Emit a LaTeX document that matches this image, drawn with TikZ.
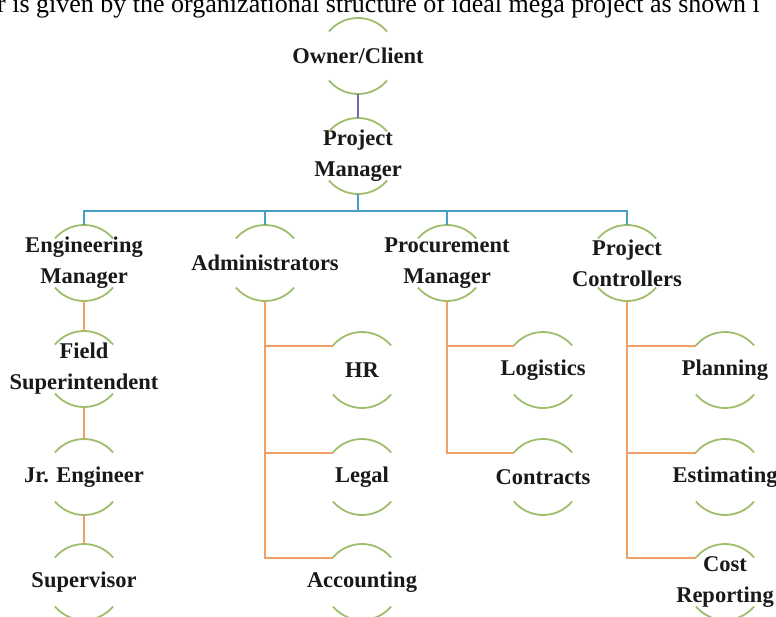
\documentclass[tikz,border=0pt]{standalone}
\usepackage{fontspec}
\setmainfont{Liberation Serif}
\definecolor{arcgreen}{RGB}{158,190,108}
\definecolor{busblue}{RGB}{72,158,196}
\definecolor{branchorange}{RGB}{240,160,100}
\definecolor{toppurple}{RGB}{118,104,176}
\newcommand\orgarcs[1]{%
  \draw[arcline] ([shift={(40:38)}]#1.center) arc (40:140:38);
  \draw[arcline] ([shift={(220:38)}]#1.center) arc (220:320:38);}
\begin{document}
\begin{tikzpicture}[x=1pt,y=1pt,
  orgtext/.style={inner sep=0pt, align=center, text=black!90,
    font=\bfseries\fontsize{22.5}{31}\selectfont},
  org/.style={circle, minimum size=76pt, inner sep=0pt, outer sep=0pt,
    label={[orgtext]center:#1}},
  arcline/.style={draw=arcgreen, line width=1.8pt},
  bus/.style={draw=busblue, line width=2pt},
  branch/.style={draw=branchorange, line width=2pt},
  topline/.style={draw=toppurple, line width=1.6pt}]
\useasboundingbox (0,0) rectangle (776,-616);
\clip (0,0) rectangle (776,-616);
\fill[white] (0,0) rectangle (776,-616);
% cut-off caption line
\node[anchor=base west, inner sep=0pt] (cap) at (-3,-12)
  {\fontsize{26}{28}\selectfont r is given by the organizational structure of ideal mega project as shown i};
% nodes
\node[org={Owner/Client}] (own) at (358,-56) {};
\node[org={Project\\Manager}] (pm) at (358,-156) {};
\node[org={Engineering\\Manager}] (em) at (84,-263) {};
\node[org={Administrators}] (ad) at (265,-263) {};
\node[org={Procurement\\Manager}] (pr) at (447,-263) {};
\node[org={Project\\Controllers}] (pc) at (627,-263) {};
\node[org={Field\\Superintendent}] (fs) at (84,-369) {};
\node[org={Jr. Engineer}] (jr) at (84,-477) {};
\node[org={Supervisor}] (sv) at (84,-582) {};
\node[org={HR}] (hr) at (362,-370) {};
\node[org={Legal}] (lg) at (362,-477) {};
\node[org={Accounting}] (ac) at (362,-582) {};
\node[org={Logistics}] (lo) at (543,-370) {};
\node[org={Contracts}] (co) at (543,-477) {};
\node[org={Planning}] (pl) at (725,-370) {};
\node[org={Estimating}] (es) at (725,-477) {};
\node[org={Cost\\Reporting}] (cr) at (725,-582) {};
% arcs
\foreach \n in {own,pm,em,ad,pr,pc,fs,jr,sv,hr,lg,ac,lo,co,pl,es,cr} {\orgarcs{\n}}
% connectors
\coordinate (busy) at (0,-211);
\draw[topline] (own.south) -- (pm.north);
\draw[bus] (em.north) -- (em.north |- busy) -- (pc.north |- busy) -- (pc.north);
\draw[bus] (pm.south) -- (pm.south |- busy);
\draw[bus] (ad.north) -- (ad.north |- busy);
\draw[bus] (pr.north) -- (pr.north |- busy);
\draw[branch] (em.south) -- (fs.north);
\draw[branch] (fs.south) -- (jr.north);
\draw[branch] (jr.south) -- (sv.north);
\draw[branch] (ad.south) |- (hr.140);
\draw[branch] (ad.south) |- (lg.140);
\draw[branch] (ad.south) |- (ac.140);
\draw[branch] (pr.south) |- (lo.140);
\draw[branch] (pr.south) |- (co.140);
\draw[branch] (pc.south) |- (pl.140);
\draw[branch] (pc.south) |- (es.140);
\draw[branch] (pc.south) |- (cr.140);
\end{tikzpicture}
\end{document}
